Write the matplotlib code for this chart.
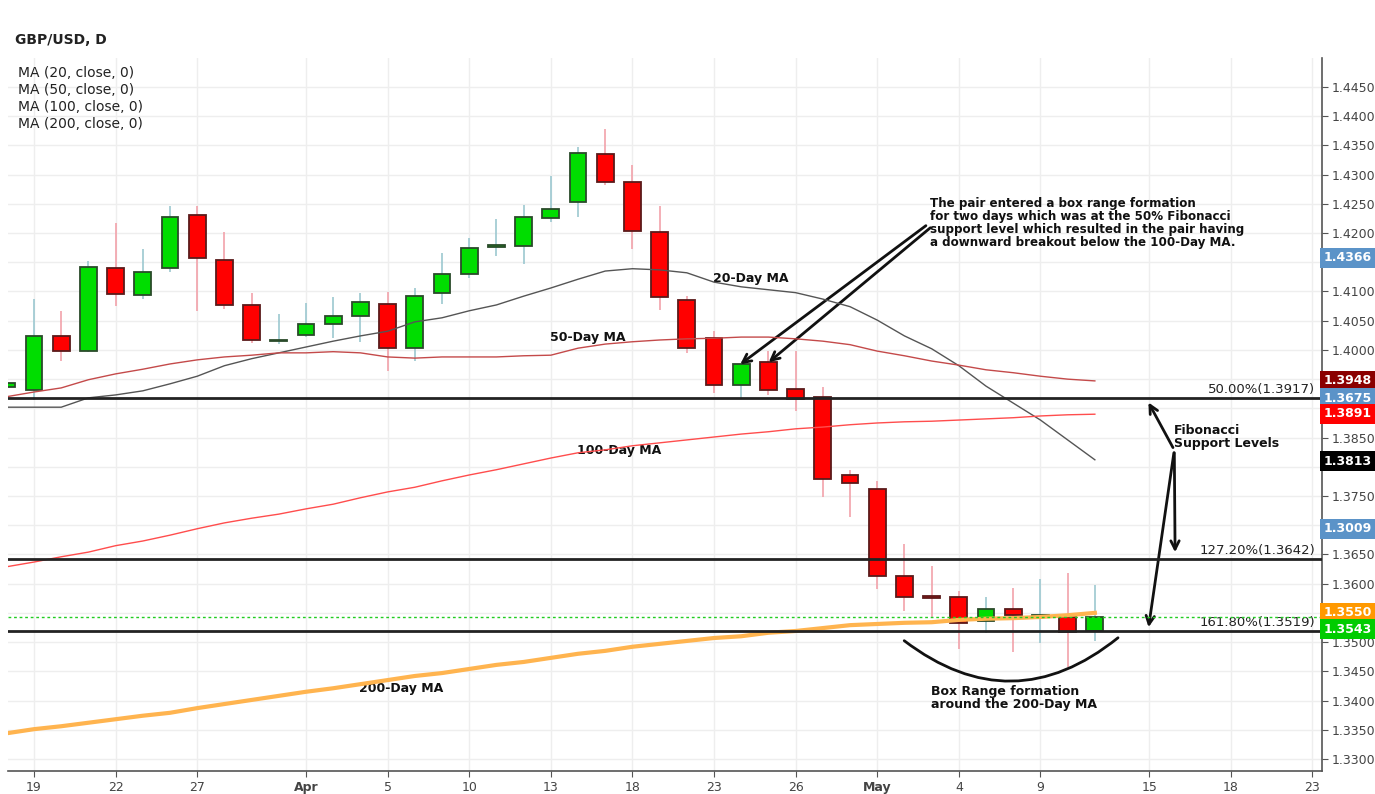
import numpy as np
import matplotlib
matplotlib.use('Agg')
import matplotlib.pyplot as plt

# ── Données : bougies GBP/USD journalières (16 mars -> 11 mai) ──────
jours = np.arange(-1, 40)   # index de séance, 0 = 19 mars

ouv = [1.3937, 1.3932, 1.4024, 1.3998, 1.4140, 1.4094, 1.4140, 1.4231, 1.4154, 1.4077,
       1.4016, 1.4026, 1.4044, 1.4058, 1.4079, 1.4003, 1.4098, 1.4130, 1.4176, 1.4178,
       1.4226, 1.4253, 1.4335, 1.4287, 1.4202, 1.4086, 1.4020, 1.3940, 1.3979, 1.3933,
       1.3920, 1.3786, 1.3762, 1.3613, 1.3579, 1.3577, 1.3536, 1.3557, 1.3545, 1.3543,
       1.3519]
haut = [1.3946, 1.4087, 1.4067, 1.4152, 1.4217, 1.4173, 1.4246, 1.4246, 1.4202, 1.4098,
        1.4062, 1.4080, 1.4091, 1.4098, 1.4099, 1.4106, 1.4166, 1.4192, 1.4224, 1.4248,
        1.4298, 1.4347, 1.4378, 1.4317, 1.4246, 1.4092, 1.4032, 1.3976, 1.3998, 1.3998,
        1.3937, 1.3795, 1.3776, 1.3668, 1.3630, 1.3588, 1.3577, 1.3593, 1.3608, 1.3618,
        1.3598]
bas = [1.3933, 1.3914, 1.3981, 1.3997, 1.4075, 1.4087, 1.4133, 1.4067, 1.4070, 1.4012,
       1.4010, 1.4022, 1.4020, 1.4014, 1.3964, 1.3981, 1.4079, 1.4123, 1.4161, 1.4147,
       1.4219, 1.4228, 1.4282, 1.4173, 1.4068, 1.3995, 1.3926, 1.3918, 1.3923, 1.3896,
       1.3748, 1.3714, 1.3591, 1.3553, 1.3541, 1.3488, 1.3516, 1.3483, 1.3499, 1.3457,
       1.3502]
clo = [1.3943, 1.4024, 1.3998, 1.4142, 1.4096, 1.4133, 1.4228, 1.4157, 1.4077, 1.4017,
       1.4017, 1.4044, 1.4058, 1.4082, 1.4003, 1.4092, 1.4130, 1.4175, 1.4180, 1.4228,
       1.4241, 1.4337, 1.4287, 1.4204, 1.4091, 1.4003, 1.3940, 1.3976, 1.3932, 1.3916,
       1.3779, 1.3772, 1.3613, 1.3577, 1.3576, 1.3533, 1.3557, 1.3546, 1.3546, 1.3517,
       1.3543]

# moyennes mobiles
ma20 = [1.3902, 1.3902, 1.3902, 1.3918, 1.3923, 1.3930, 1.3942, 1.3955, 1.3973, 1.3985,
        1.3995, 1.4005, 1.4015, 1.4024, 1.4032, 1.4048, 1.4055, 1.4067, 1.4077, 1.4092,
        1.4106, 1.4121, 1.4135, 1.4139, 1.4137, 1.4132, 1.4116, 1.4108, 1.4103, 1.4098,
        1.4087, 1.4074, 1.4051, 1.4024, 1.4002, 1.3973, 1.3938, 1.3909, 1.3880, 1.3846,
        1.3812]
ma50 = [1.3920, 1.3928, 1.3935, 1.3949, 1.3959, 1.3967, 1.3976, 1.3983, 1.3988, 1.3991,
        1.3995, 1.3995, 1.3997, 1.3995, 1.3988, 1.3986, 1.3988, 1.3988, 1.3988, 1.3990,
        1.3991, 1.4003, 1.4010, 1.4014, 1.4017, 1.4019, 1.4020, 1.4022, 1.4022, 1.4019,
        1.4015, 1.4009, 1.3998, 1.3990, 1.3981, 1.3974, 1.3966, 1.3961, 1.3955, 1.3950,
        1.3947]
ma100 = [1.3629, 1.3637, 1.3646, 1.3654, 1.3665, 1.3673, 1.3683, 1.3694, 1.3704, 1.3712,
         1.3719, 1.3728, 1.3736, 1.3747, 1.3757, 1.3765, 1.3776, 1.3786, 1.3795, 1.3805,
         1.3815, 1.3824, 1.3829, 1.3836, 1.3841, 1.3846, 1.3851, 1.3856, 1.3860, 1.3865,
         1.3868, 1.3872, 1.3875, 1.3877, 1.3878, 1.3880, 1.3882, 1.3884, 1.3887, 1.3889,
         1.3890]
ma200 = [1.3344, 1.3351, 1.3356, 1.3362, 1.3368, 1.3374, 1.3379, 1.3387, 1.3394, 1.3401,
         1.3408, 1.3415, 1.3421, 1.3428, 1.3435, 1.3442, 1.3447, 1.3454, 1.3461, 1.3466,
         1.3473, 1.3480, 1.3485, 1.3492, 1.3497, 1.3502, 1.3507, 1.3510, 1.3516, 1.3519,
         1.3524, 1.3529, 1.3531, 1.3533, 1.3534, 1.3538, 1.3540, 1.3541, 1.3543, 1.3546,
         1.3550]

# niveaux de Fibonacci
fib_niveaux = [1.3917, 1.3642, 1.3519]
fib_textes = ['50.00%(1.3917)', '127.20%(1.3642)', '161.80%(1.3519)']
prix_actuel = 1.3543

# axe des x
tick_pos = [0, 3, 6, 10, 13, 16, 19, 22, 25, 28, 31, 34, 37, 41, 44, 47]
tick_lab = ['19', '22', '27', 'Apr', '5', '10', '13', '18', '23', '26', 'May', '4', '9', '15', '18', '23']

# étiquettes colorées sur l'axe des prix
etiq_txt = ['1.4366', '1.3948', '1.3675', '1.3891', '1.3813', '1.3009', '1.3550', '1.3543']
etiq_pos = [1.41574, 1.39469, 1.39177, 1.38904, 1.38099, 1.36936, 1.35498, 1.35224]
etiq_col = ['#5b93c8', '#8b0000', '#5b93c8', '#ff0000', '#000000', '#5b93c8', '#ff9900', '#00cc00']
# graduations cachées sous les étiquettes
caches = ['1.4150', '1.3950', '1.3900', '1.3800', '1.3700', '1.3550']

ouv, haut, bas, clo = map(np.array, (ouv, haut, bas, clo))

# ── Figure ──────────────────────────────────────────────────────────
fig = plt.figure(figsize=(13.75, 7.94), dpi=100)
ax = fig.add_axes([8/1375, 1-771/794, 1314/1375, 713/794])

ax.set_xlim(-0.956, 47.35)
ax.set_ylim(1.32794, 1.44996)

# grille
yt = np.arange(1.3300, 1.44501, 0.0050)
ax.set_xticks(tick_pos)
ax.set_xticklabels(tick_lab)
ax.set_yticks(yt)
ax.set_yticklabels(['' if '%.4f' % v in caches else '%.4f' % v for v in yt])
ax.yaxis.tick_right()
ax.grid(True, color='#eeeeee', lw=1, zorder=0)
ax.set_axisbelow(True)
for lab in ax.get_xticklabels():
    if lab.get_text() in ('Apr', 'May'):
        lab.set_fontweight('bold')
ax.tick_params(axis='y', labelsize=9, labelcolor='#444444', color='#555555', length=4, pad=3)
ax.tick_params(axis='x', labelsize=9, labelcolor='#444444', color='#555555', length=4, pad=3)

for s in ['top', 'left']:
    ax.spines[s].set_visible(False)
for s in ['right', 'bottom']:
    ax.spines[s].set_color('#555555')
    ax.spines[s].set_linewidth(1.2)

# ── Bougies ─────────────────────────────────────────────────────────
hausse = clo >= ouv
couleur = np.where(hausse, '#00dd00', '#ff0000')
bord = np.where(hausse, '#2a4a2a', '#5a1a1a')
meche = np.where(hausse, '#9cc8d0', '#f2a2aa')
corps = np.maximum(np.abs(clo - ouv), 0.00005)

ax.vlines(jours, bas, haut, colors=meche, lw=1.2, zorder=2)
ax.bar(jours, corps, bottom=np.minimum(ouv, clo), width=0.62,
       color=couleur, edgecolor=bord, linewidth=1.3, zorder=3)

# ── Moyennes mobiles ────────────────────────────────────────────────
ax.plot(jours, ma20, color='#555555', lw=1, zorder=4)
ax.plot(jours, ma50, color='#c44a4a', lw=1, zorder=4)
ax.plot(jours, ma100, color='#ff4d4d', lw=1, zorder=4)
ax.plot(jours, ma200, color='#ffb44f', lw=3, zorder=4)

# ── Fibonacci ───────────────────────────────────────────────────────
for niv, txt in zip(fib_niveaux, fib_textes):
    ax.axhline(niv, color='#222222', lw=2, zorder=5)
    ax.text(47.1, niv + 0.0004, txt, ha='right', va='bottom', fontsize=9.5, color='#222222')
ax.axhline(prix_actuel, color='#22cc22', lw=1, ls=(0, (2, 2)), zorder=5)

# étiquettes à droite
for txt, pos, col in zip(etiq_txt, etiq_pos, etiq_col):
    ax.text(1.0012, pos, txt, transform=ax.get_yaxis_transform(), ha='left', va='center',
            fontsize=9, color='white', fontweight='bold',
            bbox=dict(boxstyle='square,pad=0.25', fc=col, ec='none'), zorder=10, clip_on=False)

# ── Annotations ─────────────────────────────────────────────────────
gras = dict(fontsize=9, fontweight='bold', color='#111111')
ax.text(24.97, 1.41231, '20-Day MA', ha='left', va='center', **gras)
ax.text(18.97, 1.40221, '50-Day MA', ha='left', va='center', **gras)
ax.text(19.97, 1.38287, '100-Day MA', ha='left', va='center', **gras)
ax.text(11.95, 1.34214, '200-Day MA', ha='left', va='center', **gras)

ax.text(32.95, 1.42615,
        'The pair entered a box range formation\n'
        'for two days which was at the 50% Fibonacci\n'
        'support level which resulted in the pair having\n'
        'a downward breakout below the 100-Day MA.',
        ha='left', va='top', fontsize=8.6, fontweight='bold', color='#111111', linespacing=1.0)

fleche = dict(arrowstyle='->,head_length=0.6,head_width=0.3', color='#111111', lw=2)
ax.annotate('', xy=(25.88, 1.39725), xytext=(32.87, 1.42155), arrowprops=fleche)
ax.annotate('', xy=(26.93, 1.39759), xytext=(33.03, 1.42121), arrowprops=fleche)

ax.text(41.92, 1.38510, 'Fibonacci\nSupport Levels', ha='left', va='center',
        fontsize=9, fontweight='bold', color='#111111', linespacing=1.0)
ax.annotate('', xy=(40.92, 1.39143), xytext=(41.92, 1.38287), arrowprops=fleche)
ax.annotate('', xy=(41.95, 1.36490), xytext=(41.92, 1.38287), arrowprops=fleche)
ax.annotate('', xy=(40.96, 1.35207), xytext=(41.92, 1.38287), arrowprops=fleche)

ax.annotate('', xy=(39.93, 1.35104), xytext=(31.91, 1.35053),
            arrowprops=dict(arrowstyle='-', color='#111111', lw=2, connectionstyle='arc3,rad=0.4'))
ax.text(32.97, 1.34043, 'Box Range formation\naround the 200-Day MA', ha='left', va='center',
        fontsize=9, fontweight='bold', color='#111111', linespacing=1.0)

# ── Titre et légende ────────────────────────────────────────────────
fig.text(15/1375, 1-40/794, 'GBP/USD, D', fontsize=10, fontweight='bold', va='center', color='#222222')
for i, txt in enumerate(['MA (20, close, 0)', 'MA (50, close, 0)', 'MA (100, close, 0)', 'MA (200, close, 0)']):
    fig.text(18/1375, 1-(73 + 17*i)/794, txt, fontsize=10, va='center', color='#222222')

plt.savefig('out.png', dpi=100)
